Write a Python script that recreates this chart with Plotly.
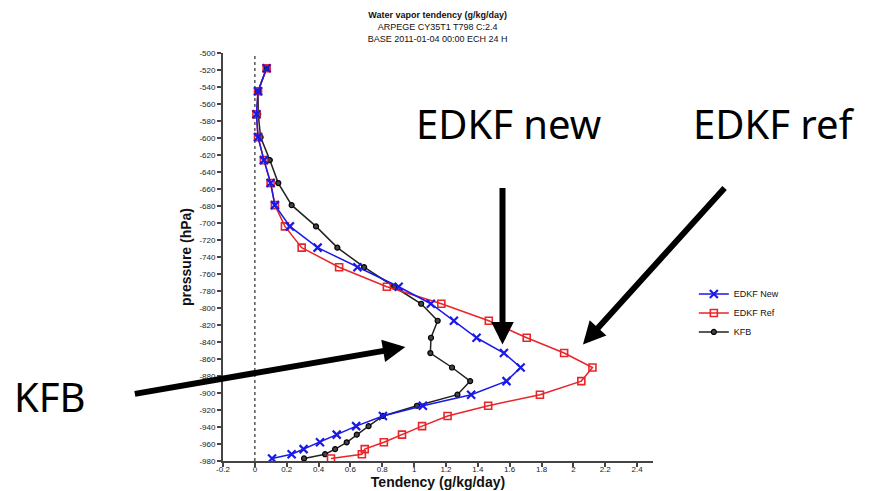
import plotly.graph_objects as go

# Model levels (hPa), plotted as negative values so the surface is at the bottom
levels = [518, 545, 572, 599, 626, 653, 679, 704, 729, 752, 775, 795, 815,
          835, 853, 870, 886, 902, 915, 927, 939, 949, 958, 966, 972, 977]

edkf_new = [0.074, 0.02, 0.01, 0.02, 0.057, 0.099, 0.126, 0.22, 0.394, 0.644,
            0.903, 1.105, 1.25, 1.392, 1.564, 1.669, 1.58, 1.358, 1.055, 0.804,
            0.636, 0.514, 0.409, 0.306, 0.231, 0.108]

edkf_ref = [0.074, 0.02, 0.01, 0.02, 0.057, 0.099, 0.126, 0.189, 0.294, 0.529,
            0.829, 1.171, 1.469, 1.707, 1.942, 2.12, 2.05, 1.79, 1.465, 1.21,
            1.05, 0.924, 0.81, 0.69, 0.672, 0.478]

kfb = [0.074, 0.02, 0.021, 0.036, 0.094, 0.147, 0.231, 0.384, 0.518, 0.686,
       0.875, 1.044, 1.148, 1.106, 1.102, 1.238, 1.352, 1.272, 1.018, 0.804,
       0.714, 0.64, 0.577, 0.504, 0.441, 0.309]

y_tick_vals = list(range(-500, -981, -20))
y_tick_text = [f"-{abs(v)}" for v in y_tick_vals]
x_tick_vals = [-0.2, 0, 0.2, 0.4, 0.6, 0.8, 1, 1.2, 1.4, 1.6, 1.8, 2, 2.2, 2.4]
x_tick_text = ["-0.2", "0", "0.2", "0.4", "0.6", "0.8", "1", "1.2", "1.4",
               "1.6", "1.8", "2", "2.2", "2.4"]

title_lines = ["<b>Water vapor tendency (g/kg/day)</b>",
               "ARPEGE CY35T1 T798 C:2.4",
               "BASE 2011-01-04 00:00 ECH 24 H"]

y_neg = [-p for p in levels]

fig = go.Figure()

fig.add_trace(go.Scatter(
    x=kfb, y=y_neg, name="KFB", mode="lines+markers",
    line=dict(color="#222222", width=1.5),
    marker=dict(symbol="circle", size=5, color="#444444",
                line=dict(color="#000000", width=1.2)),
    legendrank=3))

fig.add_trace(go.Scatter(
    x=edkf_ref, y=y_neg, name="EDKF Ref", mode="lines+markers",
    line=dict(color="#e8262a", width=1.5),
    marker=dict(symbol="square-open", size=7, color="#e8262a",
                line=dict(width=1.6)),
    legendrank=2))

fig.add_trace(go.Scatter(
    x=edkf_new, y=y_neg, name="EDKF New", mode="lines+markers",
    line=dict(color="#1a1ae6", width=1.5),
    marker=dict(symbol="x-thin-open", size=8, color="#1a1ae6",
                line=dict(width=2.2, color="#1a1ae6")),
    legendrank=1))

# dotted zero line
fig.add_shape(type="line", x0=0, x1=0, y0=0, y1=1, xref="x", yref="paper",
              line=dict(color="#555555", width=1.5, dash="dot"), layer="below")

big_font = dict(family="Noto Sans", size=40, color="black")
fig.add_annotation(text="EDKF new", x=0.663, y=0.826, xref="paper", yref="paper",
                   showarrow=False, font=big_font, xanchor="center", yanchor="middle")
fig.add_annotation(text="EDKF ref", x=1.282, y=0.826, xref="paper", yref="paper",
                   showarrow=False, font=big_font, xanchor="center", yanchor="middle")
fig.add_annotation(text="KFB", x=-0.403, y=0.157, xref="paper", yref="paper",
                   showarrow=False, font=big_font, xanchor="center", yanchor="middle")

arrow_style = dict(showarrow=True, arrowhead=2, arrowsize=0.75, arrowwidth=6,
                   arrowcolor="black", text="", standoff=0, xref="x", yref="y")
fig.add_annotation(x=1.555, y=-843, ax=0, ay=-158, **arrow_style)
fig.add_annotation(x=2.06, y=-843, ax=143, ay=-158, **arrow_style)
fig.add_annotation(x=0.945, y=-846, ax=-272, ay=47, **arrow_style)

fig.update_layout(
    width=870, height=491,
    margin=dict(l=223, r=217, t=53, b=30, autoexpand=False),
    paper_bgcolor="white", plot_bgcolor="white",
    font=dict(family="Liberation Sans", color="#111111"),
    title=dict(text="<br>".join(title_lines), x=0.503, xanchor="center",
               y=0.963, yanchor="top",
               font=dict(family="Liberation Sans", size=9, color="#111111")),
    showlegend=True,
    legend=dict(x=1.095, y=0.445, xanchor="left", yanchor="top",
                font=dict(family="Liberation Sans", size=9, color="#111111"),
                bgcolor="rgba(0,0,0,0)", itemwidth=30, tracegroupgap=0),
)

fig.update_xaxes(
    range=[-0.2, 2.5], tickvals=x_tick_vals, ticktext=x_tick_text,
    automargin=False, ticklabelstandoff=-5,
    showgrid=False, zeroline=False, showline=True, linecolor="#444444",
    linewidth=2, ticks="outside", ticklen=4, tickwidth=1.5, tickcolor="#444444",
    tickfont=dict(family="Liberation Sans", size=8, color="#222222"),
    title=dict(text="<b>Tendency (g/kg/day)</b>", standoff=4,
               font=dict(family="Liberation Sans", size=14, color="#111111")))

fig.update_yaxes(
    range=[-980, -500], tickvals=y_tick_vals, ticktext=y_tick_text,
    automargin=False,
    showgrid=False, zeroline=False, showline=True, linecolor="#444444",
    linewidth=2, ticks="outside", ticklen=4, tickwidth=1.5, tickcolor="#444444",
    tickfont=dict(family="Liberation Sans", size=8, color="#222222"),
    title=dict(text="<b>pressure (hPa)</b>", standoff=4,
               font=dict(family="Liberation Sans", size=14, color="#111111")))

fig.write_html("out.html")
